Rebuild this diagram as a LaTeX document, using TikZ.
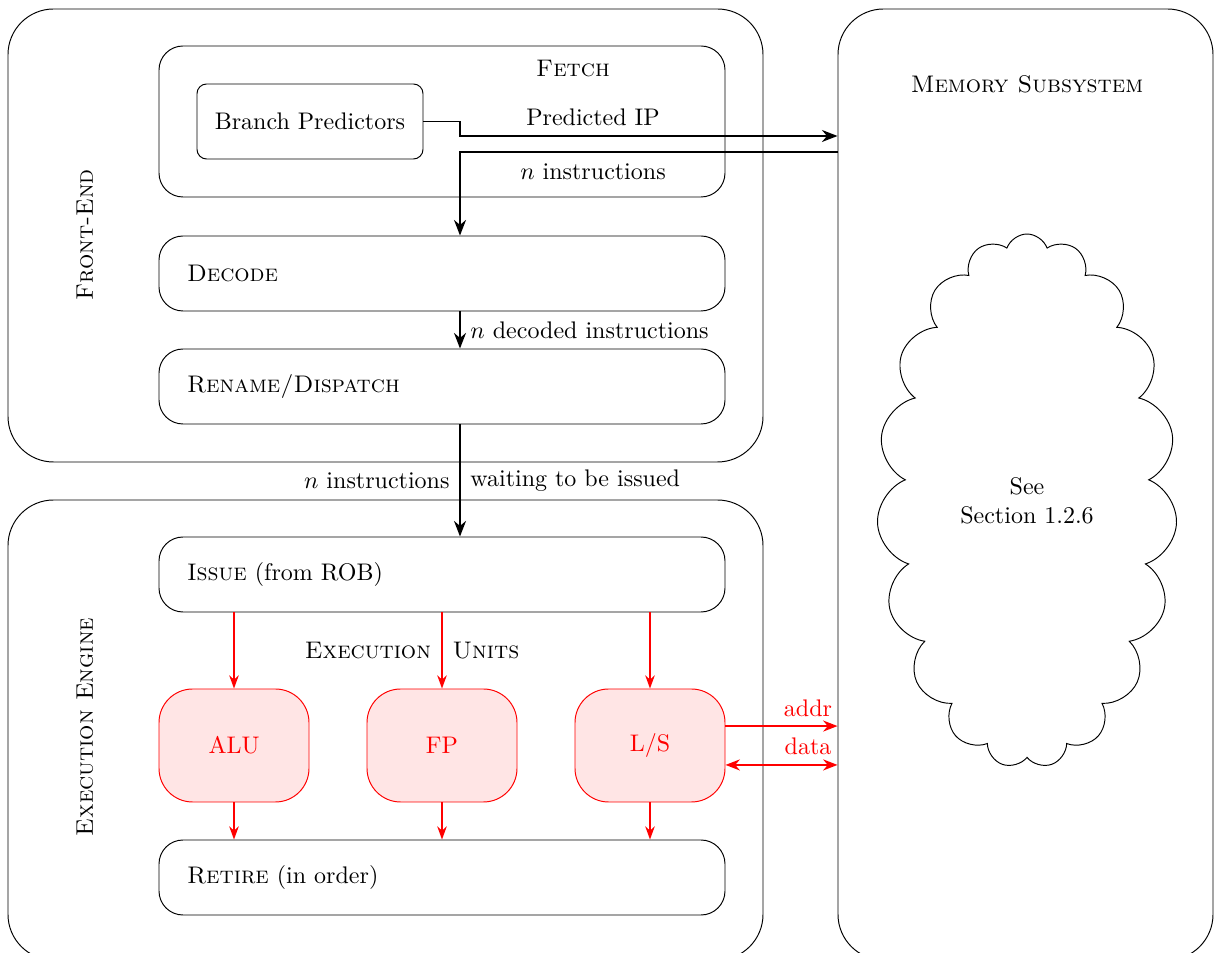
\documentclass[tikz,border=0pt]{standalone}
\usetikzlibrary{arrows.meta,shapes.symbols}
\def\pxu{0.41667pt}
\begin{document}
\begin{tikzpicture}[x=0.41667pt,y=-0.41667pt,
  outer/.style={draw, rounded corners=19pt, line width=0.4pt},
  stage/.style={draw, rounded corners=10pt, minimum height=75*\pxu, inner xsep=28*\pxu, text width=510*\pxu, align=left},
  unit/.style={draw=red, fill=red!10, text=red, rounded corners=14pt, minimum width=150*\pxu, minimum height=113*\pxu},
  arr/.style={-{Stealth[length=6.5pt,width=5pt]}, line width=0.8pt},
  rarr/.style={red, -{Stealth[length=5.5pt,width=4pt]}, line width=0.55pt},
  rthick/.style={red, line width=0.8pt},
  lbl/.style={inner sep=0pt}
]
\useasboundingbox (0,0) rectangle (1214,953);
\clip (0,0) rectangle (1214,953);

% outer containers
\node[outer, minimum width=755*\pxu, minimum height=453*\pxu] (fe) at (385.5,235.5) {};
\node[outer, minimum width=755*\pxu, minimum height=460*\pxu] (ee) at (385.5,730) {};
\node[outer, minimum width=375*\pxu, minimum height=951*\pxu] (mem) at (1025.5,484.5) {};

\node[lbl, rotate=90] (felbl) at (85,235) {\textsc{Front-End}};
\node[lbl, rotate=90] (eelbl) at (85,727) {\textsc{Execution Engine}};
\node[lbl] (memlbl) at (1027,84) {\textsc{Memory Subsystem}};

% fetch
\node[draw, rounded corners=10pt, minimum width=566*\pxu, minimum height=151*\pxu] (fetch) at (442,121.5) {};
\node[lbl] (fetchlbl) at (573,69) {\textsc{Fetch}};
\node[draw, rounded corners=4pt, minimum width=226*\pxu, minimum height=75*\pxu] (bp) at (310,121.5) {Branch Predictors};

% stages
\node[stage] (dec) at (442,273.5) {\textsc{Decode}};
\node[stage] (ren) at (442,386.5) {\textsc{Rename/Dispatch}};
\node[stage] (iss) at (442,574.5) {\textsc{Issue} (from ROB)};
\node[stage] (ret) at (442,877.5) {\textsc{Retire} (in order)};

% cloud
\node[draw, cloud, cloud puffs=19, cloud puff arc=140, cloud ignores aspect, minimum width=300*\pxu, minimum height=534*\pxu, align=center, line width=0.4pt] (cl) at (1027,501) {See\\Section 1.2.6};

% fetch arrows
\coordinate (c1) at (460,121.5);
\coordinate (c2) at (460,136);
\draw[arr] (bp.east) -- (c1) -- (c2) -- (c2 -| mem.west);
\node[lbl] (piplbl) at (593,117) {Predicted IP};
\coordinate (c3) at (838,152);
\coordinate (c4) at (460,152);
\draw[arr] (c3) -- (c4) -- (c4 |- dec.north);
\node[lbl] (ninst1) at (593,172) {$n$ instructions};

\draw[arr] (dec.south -| c4) -- (ren.north -| c4);
\node[lbl, anchor=west] (ndec) at (470,330) {$n$ decoded instructions};

\draw[arr] (ren.south -| c4) -- (iss.north -| c4);
\node[lbl, anchor=east] (ninst2) at (450,481) {$n$ instructions};
\node[lbl, anchor=west] (wait) at (470,481) {waiting to be issued};

% execution units
\node[unit] (alu) at (234,745.5) {ALU};
\node[unit] (fp) at (442,745.5) {FP};
\node[unit] (ls) at (650,745.5) {L/S};
\node[lbl] (eulbl) at (412,651) {\textsc{Execution\hspace{0.9em}Units}};

\foreach \u in {alu,fp,ls}{
  \draw[rarr] (iss.south -| \u.north) -- (\u.north);
  \draw[rarr] (\u.south) -- (ret.north -| \u.south);
}

\coordinate (ad) at ([yshift=8.1pt]ls.east);
\coordinate (da) at ([yshift=-8.1pt]ls.east);
\draw[rthick, -{Stealth[length=6pt,width=4.6pt]}] (ad) -- (ad -| mem.west);
\draw[rthick, {Stealth[length=6pt,width=4.6pt]}-{Stealth[length=6pt,width=4.6pt]}] (da) -- (da -| mem.west);
\node[lbl, text=red] (addrlbl) at (808,708) {addr};
\node[lbl, text=red] (datalbl) at (808,746) {data};
\end{tikzpicture}
\end{document}
